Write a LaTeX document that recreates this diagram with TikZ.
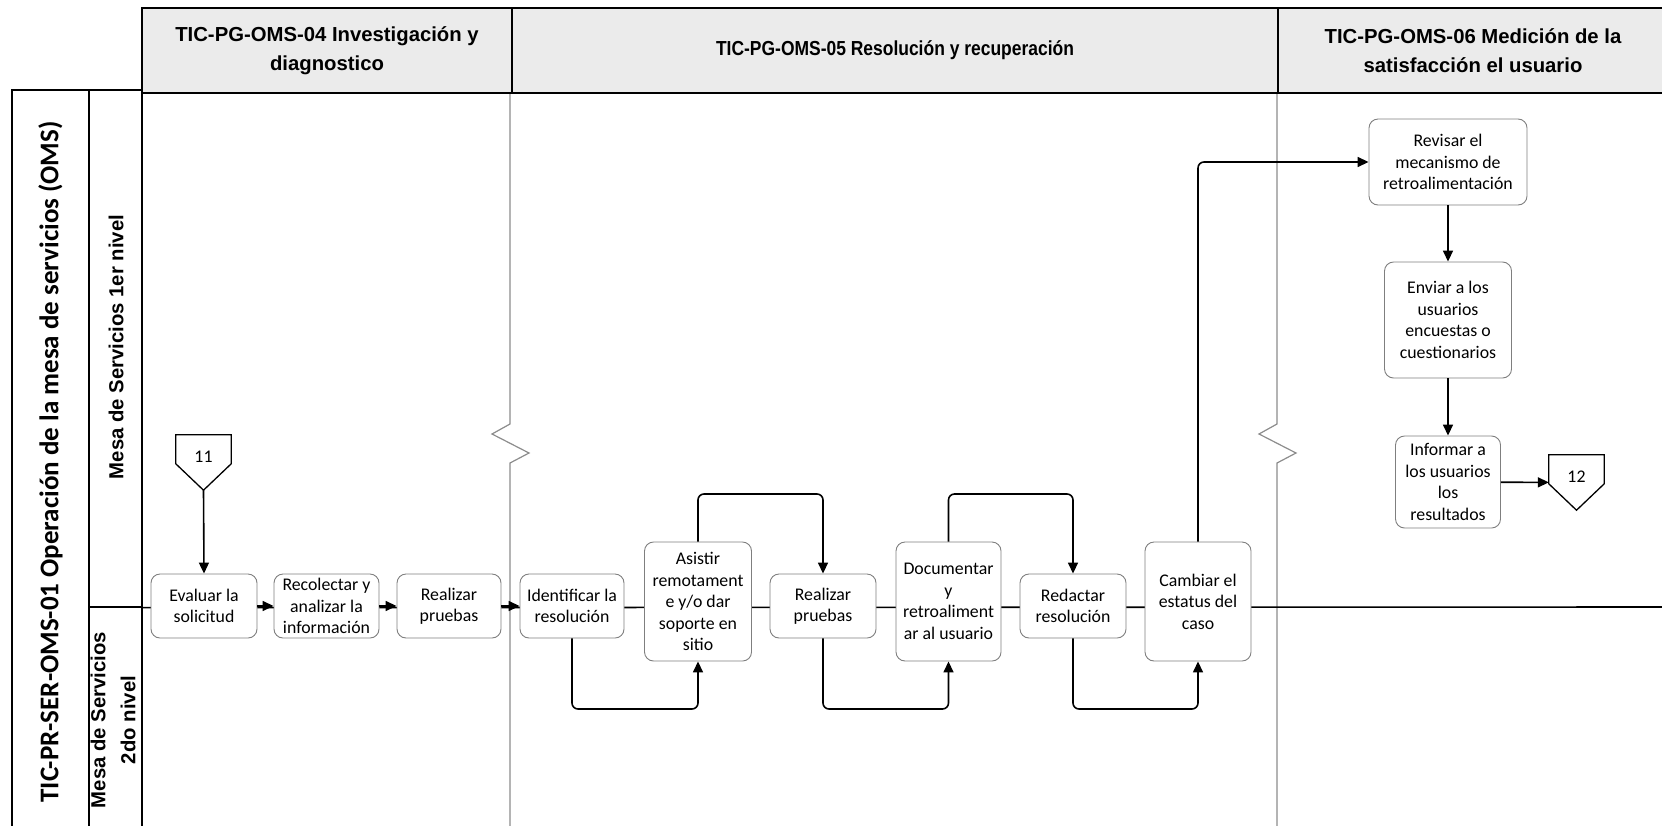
\documentclass[tikz,border=0pt]{standalone}
\usepackage{fontspec}
\setmainfont{Carlito}
\newfontfamily\arialfont{Liberation Sans}
\newfontfamily\arialnarrow{Liberation Sans}[FakeStretch=0.86]
\usetikzlibrary{arrows.meta}
\definecolor{hdrfill}{HTML}{EBEBEB}
\definecolor{boxline}{HTML}{7F7F7F}
\definecolor{colline}{HTML}{8C8C8C}

\begin{document}
\begin{tikzpicture}[x=1pt, y=-1pt,
  task/.style={draw=boxline, line width=0.9pt, rounded corners=9pt, fill=white,
    align=center, inner sep=0pt, font=\fontsize{17.8}{21.5}\selectfont},
  smalltask/.style={task, minimum width=105pt, minimum height=64pt},
  talltask/.style={task, minimum width=106pt, minimum height=119pt},
  hdr/.style={draw, line width=2.6pt, fill=hdrfill, inner sep=0pt, align=center,
    minimum height=85pt, font=\arialfont\bfseries\fontsize{20.3}{29}\selectfont},
  cell/.style={draw, line width=1.3pt, inner sep=0pt},
  lanetext/.style={rotate=90, align=center, font=\arialfont\bfseries\fontsize{20.3}{30}\selectfont},
  offpage/.style={minimum width=55pt, minimum height=55pt, inner sep=0pt},
  offtext/.style={inner sep=0pt, font=\fontsize{17.8}{21.5}\selectfont},
  markline/.style={draw, line width=1.3pt, line join=miter},
  colrule/.style={draw=colline, line width=1.2pt},
  lanerule/.style={draw, line width=1.6pt},
  conn/.style={line width=1.6pt, rounded corners=6pt, -{Triangle[length=11pt,width=10pt]}}]

\useasboundingbox (0,0) rectangle (1662,825);
\clip (0,0) rectangle (1662,825);

% pool and lane label cells
\node[cell, minimum width=77pt, minimum height=745pt] (pool) at (50.5,462.5) {};
\node[rotate=90, font=\bfseries\fontsize{27}{32}\selectfont] (pooltxt) at (50.5,462)
  {TIC-PR-SER-OMS-01 Operación de la mesa de servicios (OMS)};
\node[cell, minimum width=53pt, minimum height=517pt] (lane1) at (115.5,348.5) {};
\node[cell, minimum width=53pt, minimum height=228pt] (lane2) at (115.5,721) {};
\node[lanetext] (lane1txt) at (116,347) {Mesa de Servicios 1er nivel};
\node[lanetext] (lane2txt) at (113,720) {Mesa de Servicios\\2do nivel};

% phase column rules with break marks
\draw[colrule] (510,93) -- (510,424) -- (492,434) -- (529,453) -- (510,463) -- (510,840);
\draw[colrule] (1277,93) -- (1277,424) -- (1259,434) -- (1296,453) -- (1277,463) -- (1277,840);

% lane divider
\draw[lanerule] (lane1.south east) -- (1670,607);

% phase headers
\node[hdr, minimum width=370pt] (h1) at (327,50.5) {TIC-PG-OMS-04 Investigación y\\diagnostico};
\node[hdr, minimum width=766pt, font=\arialnarrow\bfseries\fontsize{20.3}{29}\selectfont] (h2) at (895,50.5)
  {TIC-PG-OMS-05 Resolución y recuperación};
\node[hdr, minimum width=390pt] (h3) at (1473,50.5) {TIC-PG-OMS-06 Medición de la\\satisfacción el usuario};

% activities
\node[smalltask, minimum width=106pt] (ev) at (204,606) {Evaluar la\\solicitud};
\node[smalltask] (rc) at (326.5,606) {Recolectar y\\analizar la\\información};
\node[smalltask, minimum width=104pt] (rp1) at (449,606) {Realizar\\pruebas};
\node[smalltask, minimum width=104pt] (id) at (572,606) {Identificar la\\resolución};
\node[talltask, minimum width=107pt] (as) at (698,601.5) {Asistir\\remotament\\e y/o dar\\soporte en\\sitio};
\node[smalltask, minimum width=106pt] (rp2) at (823,606) {Realizar\\pruebas};
\node[talltask, minimum width=105pt] (doc) at (948.5,601.5) {Documentar\\y\\retroaliment\\ar al usuario};
\node[smalltask, minimum width=106pt] (red) at (1073,606) {Redactar\\resolución};
\node[talltask] (cam) at (1198,601.5) {Cambiar el\\estatus del\\caso};
\node[task, minimum width=158pt, minimum height=86pt] (rev) at (1448,162) {Revisar el\\mecanismo de\\retroalimentación};
\node[task, minimum width=127pt, minimum height=116pt] (env) at (1448,320) {Enviar a los\\usuarios\\encuestas o\\cuestionarios};
\node[task, minimum width=105pt, minimum height=92pt] (inf) at (1448,482) {Informar a\\los usuarios\\los\\resultados};

% off-page connectors
\node[offpage] (m11) at (203.5,462.5) {};
\draw[markline] (m11.north west) -- (m11.north east) -- ([yshift=-29pt]m11.north east)
  -- (m11.south) -- ([yshift=-29pt]m11.north west) -- cycle;
\node[offtext] (m11txt) at (203.5,456.5) {11};
\node[offpage] (m12) at (1576.5,482.5) {};
\draw[markline] (m12.north west) -- (m12.north east) -- ([yshift=-29pt]m12.north east)
  -- (m12.south) -- ([yshift=-29pt]m12.north west) -- cycle;
\node[offtext] (m12txt) at (1576.5,476.5) {12};

% rails for the loop connectors
\coordinate (lowrail) at (0,709);
\coordinate (highrail) at (0,494);

% flow
\draw[conn] (m11.south) -- (ev.north);
\draw[conn] (ev) -- (rc);
\draw[conn] (rc) -- (rp1);
\draw[conn] (rp1) -- (id);
\draw[conn] (id.south) -- (id.south |- lowrail) -| (as.south);
\draw[conn] (as.north) -- (as.north |- highrail) -| (rp2.north);
\draw[conn] (rp2.south) -- (rp2.south |- lowrail) -| (doc.south);
\draw[conn] (doc.north) -- (doc.north |- highrail) -| (red.north);
\draw[conn] (red.south) -- (red.south |- lowrail) -| (cam.south);
\draw[conn] (cam.north) |- (rev.west);
\draw[conn] (rev) -- (env);
\draw[conn] (env) -- (inf);
\draw[conn] (inf) -- (m12);
\end{tikzpicture}
\end{document}
